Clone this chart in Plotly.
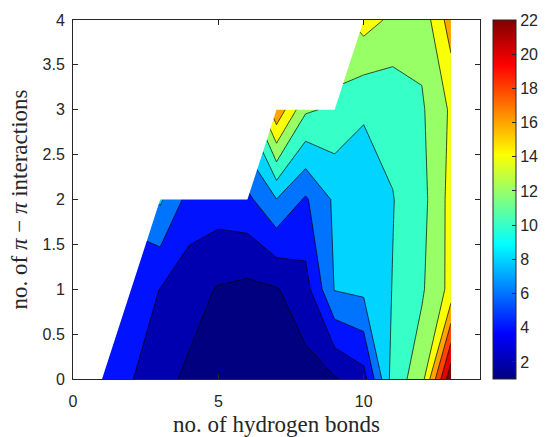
import plotly.graph_objects as go

# ---- data ----
hbonds = [1, 2, 3, 4, 5, 6, 7, 8, 9, 10, 11, 12, 13]
pipi = [0, 1, 2, 3, 4]
nan = None
z_pi0 = [4.9, 4.12, 2.6, 1.63, 1.3, 1.0, 1.1, 1.26, 1.81, 3.23, 10.9, 13.14, 23.6]
z_pi1 = [nan, 5.0, 3.96, 2.79, 1.85, 1.52, 1.86, 3.2, 8.1, 8.47, 10.06, 11.74, 14.6]
z_pi2 = [nan, nan, 8.29, 5.26, 5.06, 5.5, 7.95, 5.74, 8.35, 9.0, 9.93, 11.33, 14.67]
z_pi3 = [nan, nan, nan, nan, nan, nan, 17.6, 12.3, 11.6, 10.2, 10.55, 11.74, 14.3]
z_pi4 = [nan, nan, nan, nan, nan, nan, nan, nan, nan, 14.84, 13.57, 12.7, 17.0]
levels = [2, 4, 6, 8, 10, 12, 14, 16, 18, 20, 22]
cbar_ticks = [2, 4, 6, 8, 10, 12, 14, 16, 18, 20, 22]
cmin, cmax = 1, 22
x_ticks = [0, 5, 10]
y_ticks = [0, 0.5, 1, 1.5, 2, 2.5, 3, 3.5, 4]

Z = [z_pi0, z_pi1, z_pi2, z_pi3, z_pi4]


def jet(t):
    t = min(max(t, 0.0), 1.0)
    r = min(max(1.5 - abs(4 * t - 3), 0), 1)
    g = min(max(1.5 - abs(4 * t - 2), 0), 1)
    b = min(max(1.5 - abs(4 * t - 1), 0), 1)
    return "rgb(%d,%d,%d)" % (round(r * 255), round(g * 255), round(b * 255))


# band colours like MATLAB contourf: region below first level -> cmin, others -> lower level
band_vals = [cmin] + levels
n = len(band_vals) - 1
fill_scale = [[i / n, jet((v - cmin) / (cmax - cmin))] for i, v in enumerate(band_vals)]
jet_scale = [[0, jet(0)], [1 / 8, jet(1 / 8)], [3 / 8, jet(3 / 8)], [5 / 8, jet(5 / 8)],
             [7 / 8, jet(7 / 8)], [1, jet(1)]]

# pixel layout of the figure
W, H = 547, 437
L, R, T, B = 73, 480, 20, 379
mr, mb = 10, 58
pw = W - L - mr
ph = H - T - mb


def px(p):
    return (p - L) / pw


def py(p):
    return (B - p) / ph


fig = go.Figure()
fig.add_trace(go.Contour(
    x=hbonds, y=pipi, z=Z,
    colorscale=fill_scale,
    autocontour=False,
    contours=dict(start=levels[0], end=levels[-1], size=levels[1] - levels[0],
                  coloring="fill", showlines=True),
    line=dict(color="black", width=0.7, smoothing=0),
    showscale=False, connectgaps=False, hoverinfo="skip",
))

# mask of missing data (MATLAB-style triangular edges), derived from the NaN pattern
first = [next(i for i, v in enumerate(row) if v is not None) for row in Z]
mx = [hbonds[first[0]]]
my = [pipi[0]]
for j in range(len(pipi) - 1):
    a, b = first[j], first[j + 1]
    if b > a:
        if b - 1 > a:
            mx.append(hbonds[b - 1]); my.append(pipi[j])
        mx.append(hbonds[b]); my.append(pipi[j + 1])
mx.append(hbonds[0] - 0.05); my.append(pipi[-1])
mx.append(hbonds[0] - 0.05); my.append(pipi[0])
fig.add_trace(go.Scatter(x=mx, y=my, fill="toself", fillcolor="white", mode="lines",
                         line=dict(width=0, color="white"), hoverinfo="skip", showlegend=False))

tickfont = dict(family="Liberation Sans", size=16, color="#262626")

# continuous colour bar
fig.add_trace(go.Scatter(
    x=[hbonds[0]], y=[pipi[-1]], mode="markers", hoverinfo="skip", showlegend=False,
    marker=dict(size=1, opacity=0, color=[cmin], cmin=cmin, cmax=cmax, colorscale=jet_scale,
                showscale=True,
                colorbar=dict(x=px(493), xanchor="left", xpad=0, y=0.5, yanchor="middle", ypad=0,
                              len=1, lenmode="fraction", thickness=23,
                              tickvals=cbar_ticks, ticks="inside", ticklen=4,
                              tickcolor="#262626", outlinecolor="#262626", outlinewidth=1,
                              tickfont=tickfont)),
))

axis_common = dict(showgrid=False, zeroline=False, showline=True, linecolor="#262626",
                   linewidth=1, mirror="ticks", ticks="inside", ticklen=5,
                   tickcolor="#262626", tickfont=tickfont)
fig.update_xaxes(range=[0, 14], tickvals=x_ticks, domain=[0, px(R)],
                 ticklabelstandoff=8, **axis_common)
fig.update_yaxes(range=[0, 4], tickvals=y_ticks, domain=[0, 1],
                 ticklabelstandoff=4, **axis_common)

labfont = dict(family="Liberation Serif", size=23, color="#262626")
fig.add_annotation(text="no. of hydrogen bonds", xref="paper", yref="paper",
                   x=px((L + R) / 2), y=py(424.5), xanchor="center", yanchor="middle",
                   showarrow=False, font=labfont)
fig.add_annotation(text="no. of <i>π</i> − <i>π</i> interactions", xref="paper", yref="paper",
                   x=px(19), y=py((T + B) / 2), xanchor="center", yanchor="middle",
                   textangle=-90, showarrow=False, font=labfont)

fig.update_layout(width=W, height=H,
                  margin=dict(l=L, r=mr, t=T, b=mb, autoexpand=False),
                  paper_bgcolor="white", plot_bgcolor="white", showlegend=False)
fig.write_html("out.html")
